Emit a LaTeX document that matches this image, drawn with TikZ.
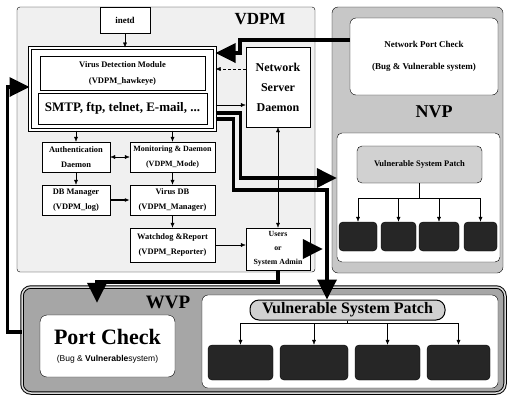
\documentclass[tikz,border=0pt]{standalone}
\usepackage{fontspec}
\setmainfont{Liberation Serif}
\setsansfont{Liberation Sans}
\usetikzlibrary{arrows.meta}

\begin{document}
\begin{tikzpicture}[x=1pt, y=-1pt, >={Latex[length=5pt,width=4pt]},
    grp/.style = {draw, rounded corners=3, inner sep=0},
    box/.style = {draw, fill=white, align=center, inner sep=0, font=\bfseries\fontsize{8.4}{15}\selectfont},
    dark/.style = {draw, fill=black!85, rounded corners=4, inner sep=0},
    pill/.style = {draw, fill=black!18, rounded corners=5, inner sep=0, align=center},
    big/.style = {line width=3.5pt, -{Triangle[length=20pt,width=19pt]}},
    tag/.style = {inner sep=0, font=\bfseries\fontsize{18}{18}\selectfont}]
  \useasboundingbox (0,0) rectangle (508,397);
  % the three parts
  \node[grp, fill=black!6, minimum width=298, minimum height=265] (vdpm) at (166,139.5) {};
  \node[grp, fill=black!22, rounded corners=6, minimum width=171, minimum height=266] (nvp) at (417.5,140) {};
  \node[grp, fill=black!35, rounded corners=9, line width=1pt, double=black!15, double distance=1.5pt, minimum width=483, minimum height=106] (wvp) at (263.5,340) {};
  \node[tag, font=\bfseries\fontsize{17}{17}\selectfont] (vdpmtag) at (260,19) {VDPM};
  \node[tag] (nvptag) at (434,112) {NVP};
  \node[tag, font=\bfseries\fontsize{19}{19}\selectfont] (wvptag) at (168,302) {WVP};
  % VDPM
  \node[box, font=\bfseries\fontsize{9}{9}\selectfont, minimum width=50, minimum height=26] (inetd) at (125,20) {inetd};
  \node[box, line width=1pt, double, double distance=1.4pt, minimum width=185, minimum height=82] (vdm) at (122.5,89) {};
  \node[box, font=\bfseries\fontsize{8.5}{16}\selectfont, minimum width=165, minimum height=34] (hawk) at (122.5,73) {Virus Detection Module\\(VDPM\_hawkeye)};
  \node[box, font=\bfseries\fontsize{13}{13}\selectfont, minimum width=169, minimum height=31] (smtp) at (122.5,108.5) {SMTP, ftp, telnet, E-mail, ...};
  \node[box, font=\bfseries\fontsize{12}{20}\selectfont, minimum width=64, minimum height=80] (nsd) at (278,87) {Network\\Server\\Daemon};
  \node[box, minimum width=68, minimum height=30] (auth) at (76,157) {Authentication\\Daemon};
  \node[box, font=\bfseries\fontsize{8}{15}\selectfont, minimum width=85, minimum height=30] (mon) at (172.5,157) {Monitoring \& Daemon\\(VDPM\_Mode)};
  \node[box, minimum width=68, minimum height=30] (dbm) at (76,200) {DB Manager\\(VDPM\_log)};
  \node[box, minimum width=85, minimum height=30] (vdb) at (172.5,200) {Virus DB\\(VDPM\_Manager)};
  \node[box, minimum width=85, minimum height=34] (wd) at (172.5,245) {Watchdog \&Report\\(VDPM\_Reporter)};
  \node[box, font=\bfseries\fontsize{7.8}{14}\selectfont, minimum width=64, minimum height=42] (users) at (278,249) {Users\\or\\System Admin};
  % NVP
  \node[box, rounded corners=6, font=\bfseries\fontsize{9}{22}\selectfont, minimum width=148, minimum height=77] (npc) at (424,56.5) {Network Port Check\\(Bug \& Vulnerable system)};
  \node[box, rounded corners=5, minimum width=163, minimum height=129] (nvpin) at (418.5,197.5) {};
  \node[pill, font=\bfseries\fontsize{8.5}{8.5}\selectfont, minimum width=125, minimum height=37] (nsp) at (419.5,164.5) {Vulnerable System Patch};
  \node[dark, minimum width=38, minimum height=29] (n1) at (358,236.5) {};
  \node[dark, minimum width=35, minimum height=29] (n2) at (398.5,236.5) {};
  \node[dark, minimum width=40, minimum height=29] (n3) at (439,236.5) {};
  \node[dark, minimum width=33, minimum height=29] (n4) at (480.5,236.5) {};
  % WVP
  \node[box, rounded corners=7, font=\bfseries\fontsize{22}{17}\selectfont, minimum width=135, minimum height=62] (pc) at (107.5,346) {Port Check\\{\sffamily\mdseries\fontsize{8.5}{10}\selectfont (Bug \& {\bfseries Vulnerable}system)}};
  \node[box, rounded corners=6, minimum width=296, minimum height=93] (wvpin) at (350,341.5) {};
  \node[pill, rounded corners=9, line width=1pt, font=\bfseries\fontsize{16}{16}\selectfont, minimum width=195, minimum height=20] (wsp) at (347.5,310) {Vulnerable System Patch};
  \node[dark, minimum width=65, minimum height=35] (w1) at (240.5,362.5) {};
  \node[dark, minimum width=68, minimum height=35] (w2) at (314,362.5) {};
  \node[dark, minimum width=65, minimum height=35] (w3) at (387.5,362.5) {};
  \node[dark, minimum width=63, minimum height=35] (w4) at (458.5,362.5) {};
  %
  \draw[->] (inetd.south) -- (inetd.south |- vdm.north);
  \draw[->] (auth.north |- vdm.south) -- (auth.north);
  \draw[->] (mon.north |- vdm.south) -- (mon.north);
  \draw[<->] (auth) -- (mon);
  \draw[->] (auth) -- (dbm);
  \draw[->] (mon) -- (vdb);
  \draw[->, line width=1.5pt] (dbm) -- (vdb);
  \draw[->] (vdb) -- (wd);
  \draw[->] (wd.east) -- (wd.east -| users.west);
  \draw[<->] (nsd) -- (users);
  \draw[->, densely dashed] ([yshift=18pt]nsd.west) -- ([yshift=20pt]vdm.east);
  \draw[->] ([yshift=-16pt]vdm.east) -- ([yshift=-18pt]nsd.west);
  \draw[->] (nsp.south) -- ++(0,15) -| (n1.north);
  \draw[->] (nsp.south) -- ++(0,15) -| (n2.north);
  \draw[->] (nsp.south) -- ++(0,15) -| (n3.north);
  \draw[->] (nsp.south) -- ++(0,15) -| (n4.north);
  \draw[->] (wsp.south) -- ++(0,3) -| (w1.north);
  \draw[->] (wsp.south) -- ++(0,3) -| (w2.north);
  \draw[->] (wsp.south) -- ++(0,3) -| (w3.north);
  \draw[->] (wsp.south) -- ++(0,3) -| (w4.north);
  %
  \draw[big] ([yshift=16.5pt]npc.west) -- ++(-110,0) |- ([yshift=36pt]vdm.east);
  \draw[big] ([yshift=-24pt]vdm.east) -- ++(25,0) |- ([yshift=19.5pt]nvpin.west);
  \draw[big] ([yshift=-30pt]vdm.east) -- ++(18,0) -- ++(0,71) -| ([xshift=-20.5pt]wsp.north);
  \draw[big, shorten >=9pt] (users.east) -- (users.east -| nvp.west);
  \draw[big] (users.south) -- ++(0,12) -| ([xshift=-10.5pt,yshift=12pt]pc.north);
  \draw[big] ([yshift=8pt]wvp.west) -- ++(-14,0) |- ([yshift=2pt]vdm.west);
\end{tikzpicture}
\end{document}
